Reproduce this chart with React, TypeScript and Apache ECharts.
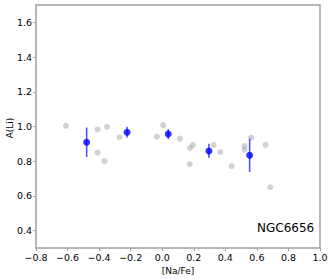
import React, { useEffect, useRef } from "react";
import * as echarts from "echarts";

const grayX = [-0.61, -0.41, -0.41, -0.366, -0.35, -0.27, -0.034, 0.006, 0.112, 0.176, 0.195, 0.174, 0.326, 0.368, 0.44, 0.522, 0.522, 0.564, 0.655, 0.685];
const grayY = [1.004, 0.983, 0.85, 0.80, 0.998, 0.938, 0.942, 1.008, 0.93, 0.876, 0.894, 0.783, 0.894, 0.853, 0.772, 0.888, 0.866, 0.936, 0.894, 0.65];

const blueX = [-0.479, -0.223, 0.038, 0.296, 0.554];
const blueY = [0.909, 0.967, 0.957, 0.859, 0.834];
const blueErr = [0.085, 0.031, 0.029, 0.041, 0.096];

const xRange = [-0.8, 1.0];
const xStep = 0.2;
const yRange = [0.3, 1.7];
const yTickValues = [0.4, 0.6, 0.8, 1.0, 1.2, 1.4, 1.6];

const fmt = (v: number) => v.toFixed(1).replace("-", "\u2212");

export default function App() {
  const ref = useRef<HTMLDivElement>(null);
  useEffect(() => {
    const chart = echarts.init(ref.current!, null, { renderer: "svg" });
    const frame = "#a0a0a0";
    const font = "DejaVu Sans";
    chart.setOption({
      animation: false,
      grid: {
        left: 36, right: 12, top: 5, bottom: 31,
        containLabel: false, outerBoundsMode: "none",
        show: true, borderColor: frame, borderWidth: 1.5, backgroundColor: "transparent",
      },
      xAxis: {
        type: "value",
        min: xRange[0],
        max: xRange[1],
        interval: xStep,
        name: "[Na/Fe]",
        nameLocation: "middle",
        nameGap: 18,
        nameTextStyle: { fontFamily: font, fontSize: 9, color: "#000" },
        splitLine: { show: false },
        axisLine: { show: false, onZero: false },
        axisTick: { show: true, length: 3, lineStyle: { color: frame } },
        axisLabel: { fontFamily: font, fontSize: 9.5, color: "#000", margin: 4, formatter: fmt },
      },
      yAxis: {
        type: "value",
        min: yRange[0],
        max: yRange[1],
        splitLine: { show: false },
        axisLine: { show: false, onZero: false },
        axisTick: { show: true, length: 3, lineStyle: { color: frame }, customValues: yTickValues },
        axisLabel: {
          fontFamily: font, fontSize: 9.5, color: "#000", margin: 4,
          formatter: fmt,
          customValues: yTickValues,
        },
      },
      graphic: [
        {
          type: "text", x: 10, y: 128, rotation: Math.PI / 2,
          style: { text: "A(Li)", font: `9px ${font}`, fill: "#000", align: "center", verticalAlign: "middle" },
        },
        { type: "text", left: 257, top: 222, style: { text: "NGC6656", font: `12px ${font}`, fill: "#000" } },
      ],
      series: [
        {
          type: "scatter",
          data: grayX.map((x, i) => [x, grayY[i]]),
          symbolSize: 6,
          itemStyle: { color: "rgba(128,128,128,0.45)" },
          z: 2,
        },
        {
          type: "custom",
          data: blueX.map((x, i) => [x, blueY[i] - blueErr[i], blueY[i] + blueErr[i]]),
          renderItem: (params: any, api: any) => {
            const lo = api.coord([api.value(0), api.value(1)]);
            const hi = api.coord([api.value(0), api.value(2)]);
            return {
              type: "line",
              shape: { x1: lo[0], y1: lo[1], x2: hi[0], y2: hi[1] },
              style: { stroke: "rgba(40,40,255,0.85)", lineWidth: 1.5 },
            };
          },
          z: 3,
        },
        {
          type: "scatter",
          data: blueX.map((x, i) => [x, blueY[i]]),
          symbolSize: 7,
          itemStyle: { color: "#0000ff" },
          z: 4,
        },
      ],
    });
    return () => chart.dispose();
  }, []);
  return <div ref={ref} style={{ width: 332, height: 279, position: "absolute", left: 0, top: 0 }} />;
}
